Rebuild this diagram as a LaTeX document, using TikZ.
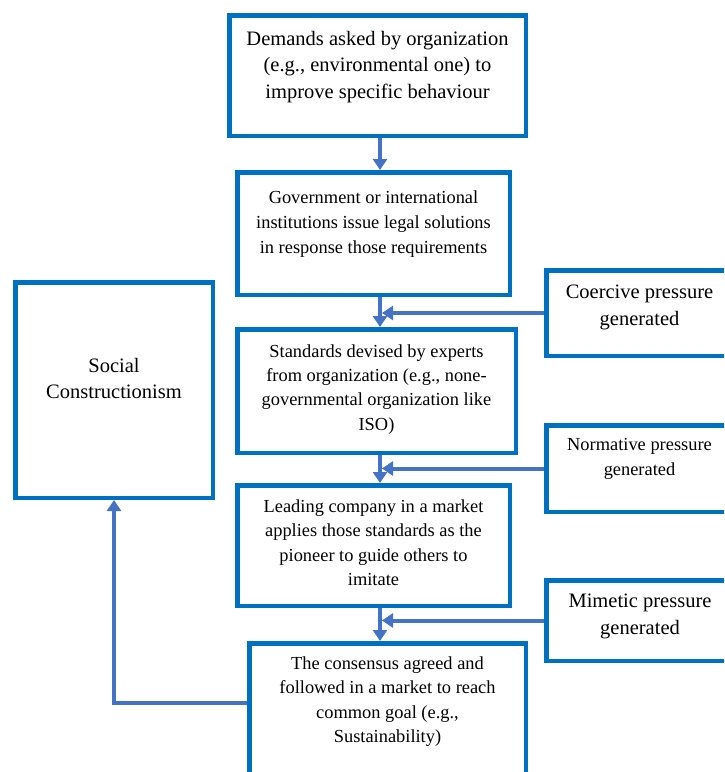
\documentclass[tikz,border=0pt]{standalone}
\usepackage{fontspec}
\setmainfont{Liberation Serif}
\usetikzlibrary{arrows.meta}
\definecolor{boxblue}{HTML}{0070C0}
\definecolor{arrblue}{HTML}{4472C4}
\begin{document}
\begin{tikzpicture}[x=1pt,y=-1pt,
  box/.style={draw=boxblue,line width=4.5pt,fill=white,inner sep=0pt},
  arr/.style={draw=arrblue,line width=4pt,-{Triangle[width=14pt,length=11pt]}},
  big/.style={font=\fontsize{20.5}{26.5}\selectfont,align=center,inner sep=0pt,anchor=north},
  small/.style={font=\fontsize{18.4}{24.5}\selectfont,align=center,inner sep=0pt,anchor=north}]
\useasboundingbox (0,0) rectangle (724,772);
\clip (0,0) rectangle (724,772);
% boxes
\node[box,minimum width=296.5pt,minimum height=120.5pt] (b1) at (377.5,75.5) {};
\node[box,minimum width=272.5pt,minimum height=122.5pt] (b2) at (373.5,233.5) {};
\node[box,minimum width=278.5pt,minimum height=123.5pt] (b3) at (376.5,391) {};
\node[box,minimum width=272.5pt,minimum height=120.5pt] (b4) at (373.5,545.5) {};
\node[box,minimum width=276.5pt,minimum height=154.5pt] (b5) at (387.5,720.5) {};
\node[box,minimum width=186.5pt,minimum height=85.5pt] (coer) at (639.5,313) {};
\node[box,minimum width=186.5pt,minimum height=86.5pt] (norm) at (639.5,468.5) {};
\node[box,minimum width=186.5pt,minimum height=80.5pt] (mim) at (639.5,620.5) {};
\node[box,minimum width=197.5pt,minimum height=215.5pt] (soc) at (114,390) {};
% texts
\node[big] (t1) at (377.5,30) {\rule{0pt}{15pt}Demands asked by organization\\(e.g., environmental one) to\\improve specific behaviour};
\node[small,font=\fontsize{18.4}{25}\selectfont] (t2) at (373.5,188) {\rule{0pt}{15pt}Government or international\\institutions issue legal solutions\\in response those requirements};
\node[small,font=\fontsize{18.4}{24.3}\selectfont] (t3) at (376.5,342) {\rule{0pt}{15pt}Standards devised by experts\\from organization (e.g., none-\\governmental organization like\\ISO)};
\node[small] (t4) at (373.5,497) {\rule{0pt}{15pt}Leading company in a market\\applies those standards as the\\pioneer to guide others to\\imitate};
\node[small] (t5) at (387.5,654) {\rule{0pt}{15pt}The consensus agreed and\\followed in a market to reach\\common goal (e.g.,\\Sustainability)};
\node[big,font=\fontsize{20.5}{27}\selectfont] (tc) at (639.5,283) {\rule{0pt}{15pt}Coercive pressure\\generated};
\node[small,font=\fontsize{18.4}{25}\selectfont] (tn) at (639.5,435) {\rule{0pt}{15pt}Normative pressure\\generated};
\node[big,font=\fontsize{20.5}{27.5}\selectfont] (tm) at (640,592) {\rule{0pt}{15pt}Mimetic pressure\\generated};
\node[big,font=\fontsize{20.5}{26}\selectfont] (ts) at (114,357) {\rule{0pt}{15pt}Social\\Constructionism};
% connectors
\coordinate (ax) at (380,0);
\coordinate (jx) at (382,0);
\coordinate (fb) at (114,703);
\draw[arr] (b1.south -| ax) -- (b2.north -| ax);
\draw[arr] (b2.south -| ax) -- (b3.north -| ax);
\draw[arr] (b3.south -| ax) -- (b4.north -| ax);
\draw[arr] (b4.south -| ax) -- (b5.north -| ax);
\draw[arr] (coer.west) -- (coer.west -| jx);
\draw[arr] (norm.west) -- (norm.west -| jx);
\draw[arr] (mim.west) -- (mim.west -| jx);
\draw[arr] (b5.west |- fb) -- (fb) -- (soc.south);
\end{tikzpicture}
\end{document}
